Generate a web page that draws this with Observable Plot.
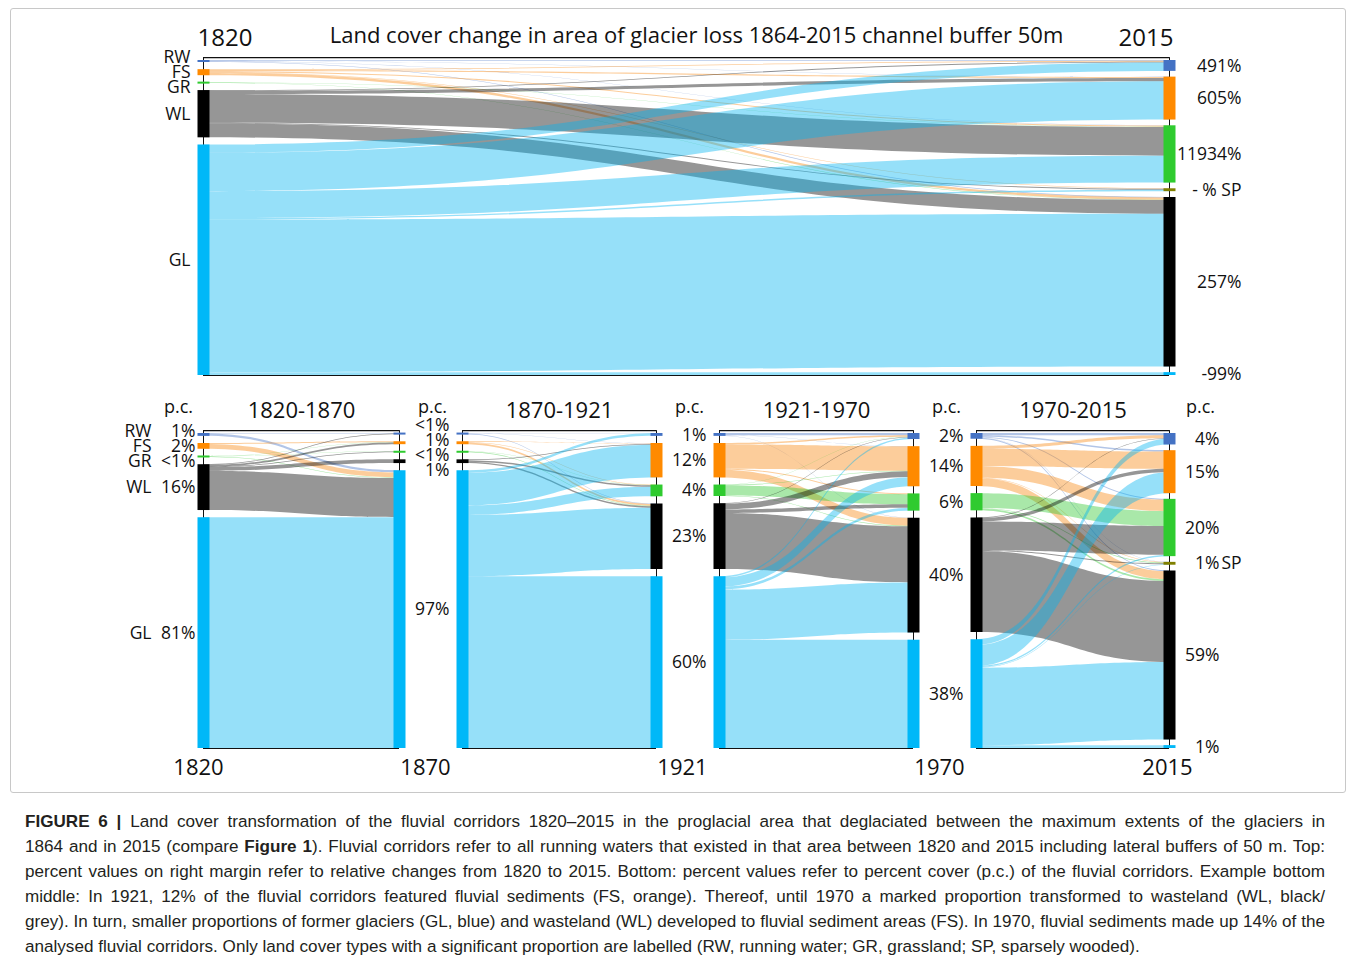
<!DOCTYPE html>
<html>
<head>
<meta charset="utf-8">
<script src="https://cdn.jsdelivr.net/npm/d3@7"></script>
<script src="https://cdn.jsdelivr.net/npm/@observablehq/plot@0.6"></script>
<style>
  body { margin: 0; background: #fff; }
  #wrap { position: relative; width: 1355px; height: 963px; overflow: hidden; font-family: "Open Sans", sans-serif; }
  #wrap svg { position: absolute; left: 0; }
  #frame { position: absolute; left: 10px; top: 8px; width: 1334px; height: 783px; border: 1px solid #c8c8c8; border-radius: 3px; }
  #caption { position: absolute; left: 25px; top: 809px; width: 1300px; font-family: "Liberation Sans", Arial, sans-serif; font-size: 17.1px; line-height: 25px; color: #231f20; }
  #caption div { text-align: justify; text-align-last: justify; white-space: nowrap; }
  #caption div.last { text-align-last: left; }
</style>
</head>
<body>
<div id="wrap">
  <div id="frame"></div>
  <div id="caption">
    <div><b>FIGURE 6 |</b> Land cover transformation of the fluvial corridors 1820–2015 in the proglacial area that deglaciated between the maximum extents of the glaciers in</div>
    <div>1864 and in 2015 (compare <b>Figure 1</b>). Fluvial corridors refer to all running waters that existed in that area between 1820 and 2015 including lateral buffers of 50 m. Top:</div>
    <div>percent values on right margin refer to relative changes from 1820 to 2015. Bottom: percent values refer to percent cover (p.c.) of the fluvial corridors. Example bottom</div>
    <div>middle: In 1921, 12% of the fluvial corridors featured fluvial sediments (FS, orange). Thereof, until 1970 a marked proportion transformed to wasteland (WL, black/</div>
    <div>grey). In turn, smaller proportions of former glaciers (GL, blue) and wasteland (WL) developed to fluvial sediment areas (FS). In 1970, fluvial sediments made up 14% of the</div>
    <div class="last">analysed fluvial corridors. Only land cover types with a significant proportion are labelled (RW, running water; GR, grassland; SP, sparsely wooded).</div>
  </div>
</div>
<script>
// ---------- data ----------
const types = ["RW", "FS", "GR", "SP", "WL", "GL"];
const nodeColors = ["#4472c4", "#ff8a00", "#2fcb2f", "#808000", "#000000", "#00b8f8"];
const flowColors = ["#4472c4", "#f7850c", "#2fc82f", "#808000", "#000000", "#00b4f0"];

const topTitle = "Land cover change in area of glacier loss 1864-2015 channel buffer 50m";
const periodTitles = ["1820-1870", "1870-1921", "1921-1970", "1970-2015"];
const years = ["1820", "1870", "1921", "1970", "2015"];

// flows: rows = from type, columns = to type (order of `types`), % of area
const flows1820to2015 = [
  [0.3, 0.1, 0.1, 0, 0.2, 0],
  [0.3, 0.4, 0.4, 0.2, 0.8, 0],
  [0, 0, 0.1, 0, 0.1, 0],
  [0, 0, 0, 0, 0, 0],
  [0.3, 1.1, 10.0, 0.3, 4.8, 0],
  [2.9, 13.4, 9.4, 0.5, 53.3, 1.0]
];
const flows1820to1870 = [
  [0.2, 0, 0, 0, 0, 0.8],
  [0, 0.3, 0, 0, 0, 1.7],
  [0, 0.1, 0.1, 0, 0, 0.2],
  [0, 0, 0, 0, 0, 0],
  [0.2, 0.6, 0.2, 0, 1.3, 13.7],
  [0, 0, 0, 0, 0, 80.6]
];
const flows1870to1921 = [
  [0.1, 0.1, 0, 0, 0.2, 0],
  [0, 0.2, 0.2, 0, 0.6, 0],
  [0, 0, 0.1, 0, 0.2, 0],
  [0, 0, 0, 0, 0, 0],
  [0, 0.3, 0.5, 0, 0.5, 0],
  [0.9, 11.4, 3.3, 0, 21.4, 60.0]
];
const flows1921to1970 = [
  [0.8, 0.1, 0, 0, 0.1, 0],
  [0.5, 8.5, 0.3, 0, 2.7, 0],
  [0.1, 0.2, 3.5, 0, 0.2, 0],
  [0, 0, 0, 0, 0, 0],
  [0.2, 2.0, 1.2, 0, 19.6, 0],
  [0.5, 3.2, 1.0, 0, 17.5, 37.8]
];
const flows1970to2015 = [
  [0.8, 0.5, 0.3, 0.1, 0.3, 0],
  [1.0, 6.0, 4.0, 0.2, 2.8, 0],
  [0, 0, 5.2, 0.2, 0.6, 0],
  [0, 0, 0, 0, 0, 0],
  [0.2, 1.2, 10.0, 0.3, 28.3, 0],
  [2.0, 7.3, 0.5, 0.2, 27.0, 1.0]
];

// labels (order of `types`)
const change1820to2015 = ["491%", "605%", "11934%", "- % SP", "257%", "-99%"];
const pc1820 = ["1%", "2%", "<1%", null, "16%", "81%"];
const pc1870 = ["<1%", "1%", "<1%", null, "1%", "97%"];
const pc1921 = ["1%", "12%", "4%", null, "23%", "60%"];
const pc1970 = ["2%", "14%", "6%", null, "40%", "38%"];
const pc2015 = ["4%", "15%", "20%", "1%", "59%", "1%"];

// ---------- layout helpers ----------
const G = 110;          // column height in % units (nodes + gaps)
const PXU = 315 / G;    // px per unit
const K = v => () => v; // constant channel

function stackColumn(values) {
  const present = values.map((v, i) => (v > 0 ? i : -1)).filter(i => i >= 0);
  const sum = d3.sum(present, i => values[i]);
  const gap = (G - sum) / (present.length - 1);
  const out = types.map(() => null);
  let y = 0;
  for (const i of present) { out[i] = { y0: y, y1: y + values[i] }; y += values[i] + gap; }
  return out;
}

function layout(flows) {
  const links = [];
  flows.forEach((row, s) => row.forEach((v, t) => { if (v > 0) links.push({ s, t, v }); }));
  const outSum = types.map((_, i) => d3.sum(links.filter(l => l.s === i), l => l.v));
  const inSum = types.map((_, j) => d3.sum(links.filter(l => l.t === j), l => l.v));
  const left = stackColumn(outSum), right = stackColumn(inSum);
  const so = left.map(n => (n ? n.y0 : 0)), to = right.map(n => (n ? n.y0 : 0));
  links.slice().sort((a, b) => a.s - b.s || a.t - b.t).forEach(l => { l.sy = so[l.s]; so[l.s] += l.v; });
  links.slice().sort((a, b) => a.t - b.t || a.s - b.s).forEach(l => { l.ty = to[l.t]; to[l.t] += l.v; });
  const area = links.flatMap((l, k) => [
    { id: k, x: 0, y1: l.sy, y2: l.sy + l.v, fill: flowColors[l.s] },
    { id: k, x: 1, y1: l.ty, y2: l.ty + l.v, fill: flowColors[l.s] }
  ]);
  const nodes = (col, x) => col.map((n, i) => n && { x, type: i, name: types[i], y0: n.y0, y1: n.y1, c: (n.y0 + n.y1) / 2 })
    .filter(Boolean)
    .map(d => { if (d.y1 - d.y0 < 0.7) { d.y0 = d.c - 0.35; d.y1 = d.c + 0.35; } return d; });
  return { area, leftNodes: nodes(left, 0), rightNodes: nodes(right, 1) };
}

function spread(items, minGap) {
  const groups = items.map(d => ({ members: [d], center: d.c }));
  let merged = true;
  while (merged) {
    merged = false;
    for (let i = 0; i < groups.length - 1; i++) {
      const a = groups[i], b = groups[i + 1];
      const aEnd = a.center + (a.members.length - 1) * minGap / 2;
      const bStart = b.center - (b.members.length - 1) * minGap / 2;
      if (bStart - aEnd < minGap) {
        const members = a.members.concat(b.members);
        groups.splice(i, 2, { members, center: d3.mean(members, d => d.c) });
        merged = true; break;
      }
    }
  }
  groups.forEach(g => g.members.forEach((d, j) => { d.ly = g.center + (j - (g.members.length - 1) / 2) * minGap; }));
  return items;
}

function withLabels(nodes, labels) {
  return spread(nodes.map(d => ({ ...d, label: labels[d.type] })), 14.8 / PXU);
}

function baseMarks(L) {
  return [
    Plot.ruleX([0, 1], { x: d => d, y1: K(-1), y2: K(G), stroke: "#111", strokeWidth: 1 }),
    Plot.ruleY([-1, G], { y: d => d, x1: K(0), x2: K(1), stroke: "#111", strokeWidth: 1.2 }),
    Plot.area(L.area, { x1: "x", y1: "y1", y2: "y2", z: "id", fill: "fill", fillOpacity: 0.41, curve: "bump-x" }),
    Plot.ruleX([...L.leftNodes, ...L.rightNodes], { x: "x", y1: "y0", y2: "y1", stroke: d => nodeColors[d.type], strokeWidth: 12 })
  ];
}

function makePlot({ colL, colR, top, height, nodeTop, marks }) {
  const svg = Plot.plot({
    width: 1355, height,
    marginLeft: colL, marginRight: 1355 - colR,
    marginTop: nodeTop - top, marginBottom: top + height - (nodeTop + 315),
    x: { domain: [0, 1], axis: null },
    y: { domain: [0, G], reverse: true, axis: null },
    color: { type: "identity" },
    style: { background: "transparent", fontFamily: "'Open Sans', sans-serif", fontSize: "18px", color: "#111", overflow: "visible" },
    marks
  });
  svg.style.top = top + "px";
  document.getElementById("wrap").appendChild(svg);
}

const LBL = 17.5; // label font size

// ---------- top panel ----------
{
  const L = layout(flows1820to2015);
  const left = withLabels(L.leftNodes, types);
  const right = L.rightNodes.map(d => ({ ...d, label: change1820to2015[d.type] }));
  makePlot({
    colL: 203, colR: 1169, top: 0, height: 400, nodeTop: 60,
    marks: [
      ...baseMarks(L),
      Plot.text(left, { x: "x", y: "ly", text: "label", textAnchor: "end", dx: -13, fontSize: LBL }),
      Plot.text(right, { x: "x", y: "c", text: "label", textAnchor: "end", dx: 72, fontSize: LBL }),
      Plot.text([topTitle], { x: K(0.5), text: d => d, frameAnchor: "top", lineAnchor: "middle", dy: -25, dx: 10, fontSize: 22 }),
      Plot.text([years[0]], { x: K(0), text: d => d, frameAnchor: "top", lineAnchor: "middle", dy: -22, dx: -6, textAnchor: "start", fontSize: 24, letterSpacing: 1 }),
      Plot.text([years[4]], { x: K(1), text: d => d, frameAnchor: "top", lineAnchor: "middle", dy: -22, dx: 4, textAnchor: "end", fontSize: 24, letterSpacing: 1 })
    ]
  });
}

// ---------- bottom panels ----------
const bottomPanels = [
  { flows: flows1820to1870, left: pc1820, right: pc1870, cols: [203, 399] },
  { flows: flows1870to1921, left: pc1870, right: pc1921, cols: [462, 656] },
  { flows: flows1921to1970, left: pc1921, right: pc1970, cols: [719, 913] },
  { flows: flows1970to2015, left: pc1970, right: pc2015, cols: [976, 1169] }
];

bottomPanels.forEach((p, i) => {
  const L = layout(p.flows);
  const left = withLabels(L.leftNodes, p.left);
  const first = i === 0, last = i === bottomPanels.length - 1;
  const valueDx = first ? -8 : -13;
  const marks = [
    ...baseMarks(L),
    Plot.text(left, { x: "x", y: "ly", text: "label", textAnchor: "end", dx: valueDx, fontSize: LBL }),
    Plot.text(["p.c."], { x: K(0), text: d => d, frameAnchor: "top", lineAnchor: "middle", dy: -26, dx: first ? -25 : -30, fontSize: 18, letterSpacing: 1 }),
    Plot.text([periodTitles[i]], { x: K(0.5), text: d => d, frameAnchor: "top", lineAnchor: "middle", dy: -23, fontSize: 22 }),
    Plot.text([years[i]], { x: K(0), text: d => d, frameAnchor: "bottom", lineAnchor: "middle", dy: 19, dx: first ? -5 : -37, fontSize: 22, letterSpacing: 1 })
  ];
  if (first) {
    marks.push(Plot.text(left, { x: "x", y: "ly", text: "name", textAnchor: "end", dx: -52, fontSize: LBL }));
  }
  if (last) {
    const right = withLabels(L.rightNodes, p.right);
    marks.push(
      Plot.text(right, { x: "x", y: "ly", text: "label", textAnchor: "end", dx: 50, fontSize: LBL }),
      Plot.text(right.filter(d => d.name === "SP"), { x: "x", y: "ly", text: "name", textAnchor: "start", dx: 52, fontSize: LBL }),
      Plot.text(["p.c."], { x: K(1), text: d => d, frameAnchor: "top", lineAnchor: "middle", dy: -26, dx: 31, fontSize: 18, letterSpacing: 1 }),
      Plot.text([years[i + 1]], { x: K(1), text: d => d, frameAnchor: "bottom", lineAnchor: "middle", dy: 19, dx: -2, fontSize: 22, letterSpacing: 1 })
    );
  }
  makePlot({ colL: p.cols[0], colR: p.cols[1], top: 380, height: 410, nodeTop: 433, marks });
});
</script>
</body>
</html>
